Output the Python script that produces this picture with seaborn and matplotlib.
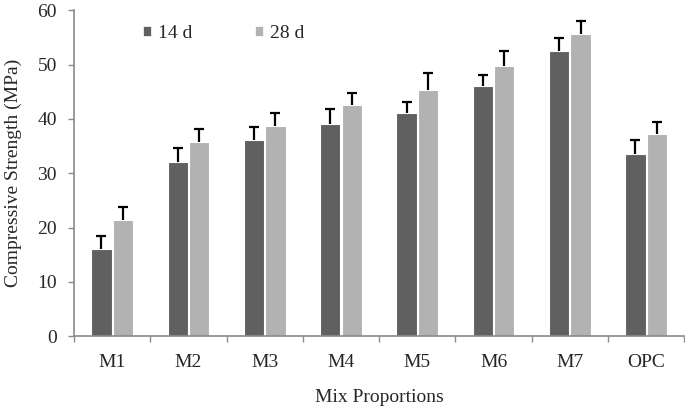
import matplotlib
matplotlib.use("Agg")
import matplotlib.pyplot as plt
import seaborn as sns
import pandas as pd
import numpy as np

categories = ["M1", "M2", "M3", "M4", "M5", "M6", "M7", "OPC"]
series_names = ["14 d", "28 d"]
strength_14d = [16.1, 32.0, 36.2, 39.1, 41.1, 46.0, 52.5, 33.6]
strength_28d = [21.3, 35.7, 38.7, 42.5, 45.3, 49.7, 55.6, 37.3]
err_14d = [2.4, 2.6, 2.3, 2.8, 2.0, 2.1, 2.4, 2.6]
err_28d = [2.5, 2.4, 2.3, 2.3, 3.1, 2.8, 2.5, 2.1]
colors = ["#606060", "#b2b2b2"]

sns.set_style("white")
plt.rcParams["font.family"] = ["Liberation Serif", "DejaVu Serif"]

df = pd.DataFrame({
    "Mix": categories * 2,
    "Age": [series_names[0]] * len(categories) + [series_names[1]] * len(categories),
    "Strength": strength_14d + strength_28d,
})

fig = plt.figure(figsize=(6.85, 4.08), dpi=100)
ax = fig.add_axes([0.108, 0.176, 0.891, 0.799])

sns.barplot(data=df, x="Mix", y="Strength", hue="Age", order=categories,
            hue_order=series_names, palette=colors, width=0.56, gap=0.05,
            errorbar=None, edgecolor="white", linewidth=0.8, ax=ax, saturation=1)

# error bars (upper only) at bar centres
errs = [err_14d, err_28d]
vals = [strength_14d, strength_28d]
bar_conts = list(ax.containers)
for i, cont in enumerate(bar_conts):
    xs = np.array([p.get_x() + p.get_width() / 2 for p in cont.patches])
    v = np.array(vals[i])
    e = np.array(errs[i])
    ax.errorbar(xs, v, yerr=[np.zeros(len(xs)), e], fmt="none",
                ecolor="black", elinewidth=1.6, capsize=0, zorder=3)
    ax.plot(xs, v + e, linestyle="none", marker="_", markersize=7,
            markeredgewidth=1.6, color="black", zorder=3)

ax.set_ylim(0, 60)
ax.set_yticks(range(0, 61, 10))
ax.set_xlim(-0.5, len(categories) - 0.5)
ax.set_xticks(range(len(categories)))
ax.set_xticklabels(categories)
ax.set_xticks(np.arange(-0.5, len(categories), 1.0), minor=True)
ax.tick_params(axis="x", which="major", length=0, labelsize=14, pad=13)
ax.tick_params(axis="x", which="minor", length=4.3, width=1, color="#8a8a8a", direction="out")
ax.tick_params(axis="y", length=4.3, width=1, color="#8a8a8a", direction="out", labelsize=14, pad=8)
ax.yaxis.set_tick_params(left=True)
ax.xaxis.set_tick_params(which="minor", bottom=True)

for s in ["top", "right"]:
    ax.spines[s].set_visible(False)
for s in ["left", "bottom"]:
    ax.spines[s].set_color("#8a8a8a")
    ax.spines[s].set_linewidth(1.2)

ax.set_xlabel("Mix Proportions", fontsize=14, labelpad=13)
ax.set_ylabel("Compressive Strength (MPa)", fontsize=14, labelpad=11)

leg = ax.legend(loc="center left", bbox_to_anchor=(0.1134, 0.929), ncol=2, frameon=False,
                fontsize=14, handlelength=0.42, handleheight=0.42, handletextpad=0.36,
                columnspacing=3.2, borderpad=0, borderaxespad=0)
for h in leg.legend_handles:
    h.set_edgecolor("white")
    h.set_linewidth(0.5)

fig.savefig("out.png", dpi=100)
